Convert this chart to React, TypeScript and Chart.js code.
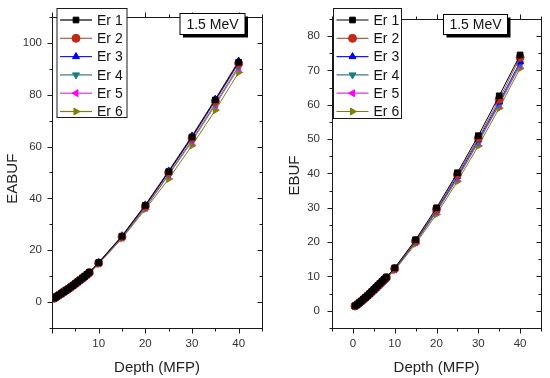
import React, { useEffect, useRef } from 'react';
import { Chart, registerables } from 'chart.js';
import { drawPoint } from 'chart.js/helpers';

Chart.register(...registerables);

const FONT = '"Liberation Sans", Arial, sans-serif';

// ---- data ----
const depths = [0.5, 1, 1.5, 2, 2.5, 3, 3.5, 4, 4.5, 5, 5.5, 6, 6.5, 7, 7.5, 8, 10, 15, 20, 25, 30, 35, 40];

const seriesNames = ['Er 1', 'Er 2', 'Er 3', 'Er 4', 'Er 5', 'Er 6'];

// EABUF (left panel)
const eabufEr1 = [1.5, 2.1, 2.7, 3.3, 3.9, 4.5, 5.1, 5.8, 6.4, 7.1, 7.8, 8.5, 9.2, 9.9, 10.7, 11.5, 15.2, 25.4, 37.3, 50.3, 63.7, 78.0, 92.5];
const eabufEr2 = [1.5, 2.1, 2.7, 3.3, 3.9, 4.5, 5.1, 5.7, 6.4, 7.1, 7.8, 8.5, 9.2, 9.9, 10.6, 11.4, 15.1, 25.2, 37.0, 50.0, 63.3, 77.5, 92.0];
const eabufEr3 = [1.4, 2.0, 2.6, 3.2, 3.8, 4.4, 5.1, 5.7, 6.4, 7.1, 7.8, 8.5, 9.2, 10.0, 10.7, 11.5, 15.3, 25.6, 37.5, 50.6, 64.1, 78.3, 93.0];
const eabufEr4 = [1.5, 2.1, 2.7, 3.3, 3.9, 4.5, 5.1, 5.7, 6.3, 7.0, 7.7, 8.4, 9.1, 9.8, 10.5, 11.3, 15.0, 25.0, 36.6, 49.3, 62.5, 76.5, 91.0];
const eabufEr5 = [1.5, 2.1, 2.7, 3.3, 3.9, 4.5, 5.0, 5.6, 6.3, 7.0, 7.6, 8.3, 9.0, 9.7, 10.4, 11.2, 14.9, 24.8, 36.3, 49.0, 62.0, 76.0, 90.3];
const eabufEr6 = [1.6, 2.2, 2.8, 3.4, 4.0, 4.6, 5.1, 5.7, 6.3, 6.9, 7.6, 8.2, 8.9, 9.6, 10.3, 11.0, 14.7, 24.5, 35.8, 47.5, 60.4, 74.0, 88.6];

// EBUF (right panel)
const ebufEr1 = [1.4, 1.8, 2.3, 2.8, 3.4, 3.9, 4.4, 5.0, 5.6, 6.2, 6.8, 7.4, 8.0, 8.6, 9.2, 9.8, 12.5, 20.7, 30.0, 40.2, 51.0, 62.6, 74.5];
const ebufEr2 = [1.4, 1.8, 2.3, 2.8, 3.3, 3.8, 4.4, 4.9, 5.5, 6.1, 6.7, 7.3, 7.9, 8.5, 9.1, 9.7, 12.3, 20.4, 29.6, 39.7, 50.3, 61.6, 73.8];
const ebufEr3 = [1.3, 1.8, 2.2, 2.7, 3.3, 3.8, 4.3, 4.9, 5.5, 6.0, 6.6, 7.2, 7.8, 8.4, 9.0, 9.6, 12.2, 20.2, 29.3, 39.2, 49.8, 60.8, 72.5];
const ebufEr4 = [1.4, 1.8, 2.3, 2.8, 3.3, 3.8, 4.3, 4.9, 5.4, 6.0, 6.6, 7.2, 7.8, 8.4, 8.9, 9.5, 12.1, 20.0, 29.0, 38.8, 49.3, 60.3, 72.0];
const ebufEr5 = [1.4, 1.8, 2.3, 2.8, 3.3, 3.8, 4.3, 4.8, 5.4, 6.0, 6.5, 7.1, 7.7, 8.3, 8.9, 9.5, 12.0, 19.9, 28.8, 38.5, 49.0, 60.0, 71.5];
const ebufEr6 = [1.5, 1.9, 2.4, 2.8, 3.3, 3.8, 4.3, 4.8, 5.3, 5.9, 6.4, 7.0, 7.6, 8.1, 8.7, 9.3, 11.8, 19.5, 28.1, 37.7, 48.0, 59.0, 70.6];

// ---- styles ----
const lineColors = ['#000000', '#b4603c', '#1a1ae6', '#3c7878', '#d23cd2', '#7d7d14'];
const markerColors = ['#000000', '#c02a18', '#0000ff', '#138080', '#ff00ff', '#808000'];
const markerStyles = ['rect', 'circle', 'triangle', 'triangle', 'triangle', 'triangle'];
const markerRotations = [0, 0, 0, 180, 270, 90];

interface PanelCfg {
  values: number[][];
  yTitle: string;
  yTitlePad: number;
  yWidth: number;
  yPad: number;
  xMin: number;
  xMax: number;
  hideZeroX: boolean;
  yMin: number;
  yMax: number;
  yMinor: number;
  yMajor: number;
  padRight: number;
  legend: { x: number; y: number; w: number; h: number };
  note: { x: number; y: number; w: number; h: number };
}

const leftPanel: PanelCfg = {
  values: [eabufEr1, eabufEr2, eabufEr3, eabufEr4, eabufEr5, eabufEr6],
  yTitle: 'EABUF   ',
  yTitlePad: 4,
  yWidth: 52,
  yPad: 10,
  xMin: 0,
  xMax: 45,
  hideZeroX: true,
  yMin: -10,
  yMax: 110,
  yMinor: 10,
  yMajor: 20,
  padRight: 13,
  legend: { x: 57, y: 8.5, w: 70, h: 109 },
  note: { x: 180, y: 13.5, w: 65, h: 21 },
};

const rightPanel: PanelCfg = {
  values: [ebufEr1, ebufEr2, ebufEr3, ebufEr4, ebufEr5, ebufEr6],
  yTitle: 'EBUF ',
  yTitlePad: 11,
  yWidth: 57,
  yPad: 12,
  xMin: -5,
  xMax: 45,
  hideZeroX: false,
  yMin: -5,
  yMax: 85,
  yMinor: 5,
  yMajor: 10,
  padRight: 8,
  legend: { x: 58.5, y: 8.5, w: 68, h: 110 },
  note: { x: 168.5, y: 14.5, w: 64, h: 20 },
};

const crisp = (v: number) => Math.round(v) + 0.5;

function makeDecor(p: PanelCfg) {
  return {
    id: 'decor',
    afterDraw(chart: any) {
      const ctx: CanvasRenderingContext2D = chart.ctx;
      const { left, right, top, bottom } = chart.chartArea;
      const xs = chart.scales.x;
      const ys = chart.scales.y;
      const L = crisp(left), R = crisp(right), T = crisp(top), B = crisp(bottom);
      ctx.save();
      ctx.strokeStyle = '#1a1a1a';
      ctx.lineWidth = 1;
      ctx.strokeRect(L, T, R - L, B - T);
      ctx.beginPath();
      xs.ticks.forEach((t: any) => {
        const px = crisp(xs.getPixelForValue(t.value));
        const len = t.value % 10 === 0 ? 5 : 3;
        ctx.moveTo(px, B); ctx.lineTo(px, B + len);
        ctx.moveTo(px, T); ctx.lineTo(px, T - len);
      });
      ys.ticks.forEach((t: any) => {
        const py = crisp(ys.getPixelForValue(t.value));
        const len = t.value % p.yMajor === 0 ? 5 : 3;
        ctx.moveTo(L, py); ctx.lineTo(L - len, py);
        ctx.moveTo(R, py); ctx.lineTo(R - len, py);
      });
      ctx.stroke();

      // legend
      const lg = p.legend;
      ctx.fillStyle = '#ffffff';
      ctx.fillRect(lg.x, lg.y, lg.w, lg.h);
      ctx.strokeStyle = '#1a1a1a';
      ctx.strokeRect(lg.x, lg.y, lg.w, lg.h);
      chart.data.datasets.forEach((ds: any, i: number) => {
        const cy = lg.y + 11.5 + i * 18.3;
        ctx.strokeStyle = ds.borderColor;
        ctx.lineWidth = 1.2;
        ctx.beginPath();
        ctx.moveTo(lg.x + 3, cy);
        ctx.lineTo(lg.x + 35, cy);
        ctx.stroke();
        ctx.fillStyle = ds.pointBackgroundColor;
        ctx.strokeStyle = ds.pointBorderColor;
        ctx.lineWidth = 1;
        drawPoint(ctx, { pointStyle: ds.pointStyle, rotation: ds.pointRotation, radius: 4, borderWidth: 1 } as any, lg.x + 19, cy);
        ctx.fillStyle = '#111111';
        ctx.font = `14px ${FONT}`;
        ctx.textBaseline = 'middle';
        ctx.textAlign = 'left';
        ctx.fillText(ds.label, lg.x + 40, cy + 1);
      });

      // energy label
      const n = p.note;
      ctx.fillStyle = '#000000';
      ctx.fillRect(n.x + 3, n.y + 3, n.w, n.h);
      ctx.fillStyle = '#ffffff';
      ctx.fillRect(n.x, n.y, n.w, n.h);
      ctx.strokeStyle = '#000000';
      ctx.lineWidth = 1;
      ctx.strokeRect(n.x, n.y, n.w, n.h);
      ctx.fillStyle = '#111111';
      ctx.font = `14px ${FONT}`;
      ctx.textAlign = 'center';
      ctx.textBaseline = 'middle';
      ctx.fillText('1.5 MeV', n.x + n.w / 2, n.y + n.h / 2 + 1);
      ctx.restore();
    },
  };
}

function buildConfig(p: PanelCfg): any {
  const datasets = seriesNames.map((name, i) => ({
    label: name,
    data: depths.map((d, j) => ({ x: d, y: p.values[i][j] })),
    borderColor: lineColors[i],
    backgroundColor: markerColors[i],
    pointBackgroundColor: markerColors[i],
    pointBorderColor: markerColors[i],
    pointStyle: markerStyles[i],
    pointRotation: markerRotations[i],
    pointRadius: 4,
    pointBorderWidth: 1,
    borderWidth: 1,
    tension: 0,
    showLine: true,
  }));
  const tickFont = { family: FONT, size: 11.5 };
  return {
    type: 'scatter',
    data: { datasets },
    options: {
      animation: false,
      responsive: false,
      maintainAspectRatio: false,
      devicePixelRatio: 1,
      layout: { padding: { top: 5, right: p.padRight, left: 0, bottom: 0 } },
      plugins: { legend: { display: false }, tooltip: { enabled: false } },
      scales: {
        x: {
          type: 'linear',
          min: p.xMin,
          max: p.xMax,
          afterFit: (s: any) => { s.height = 50; },
          grid: { display: false, drawTicks: false },
          border: { display: false },
          ticks: {
            stepSize: 5,
            autoSkip: false,
            maxRotation: 0,
            padding: 9,
            color: '#333333',
            font: tickFont,
            callback: (v: number) => (v % 10 === 0 && !(p.hideZeroX && v === 0) ? String(v) : ''),
          },
          title: {
            display: true,
            text: 'Depth (MFP)',
            color: '#222222',
            font: { family: FONT, size: 15 },
            padding: { top: 0, bottom: 1 },
          },
        },
        y: {
          type: 'linear',
          min: p.yMin,
          max: p.yMax,
          afterFit: (s: any) => { s.width = p.yWidth; },
          grid: { display: false, drawTicks: false },
          border: { display: false },
          ticks: {
            stepSize: p.yMinor,
            autoSkip: false,
            padding: p.yPad,
            color: '#333333',
            font: tickFont,
            callback: (v: number) => (v % p.yMajor === 0 ? String(v) : ''),
          },
          title: {
            display: true,
            text: p.yTitle,
            color: '#222222',
            font: { family: FONT, size: 15 },
            padding: { top: p.yTitlePad, bottom: 0 },
          },
        },
      },
    },
    plugins: [makeDecor(p)],
  };
}

function Panel({ left, cfg }: { left: number; cfg: PanelCfg }) {
  const ref = useRef<HTMLCanvasElement>(null);
  useEffect(() => {
    const chart = new Chart(ref.current as HTMLCanvasElement, buildConfig(cfg));
    return () => chart.destroy();
  }, [cfg]);
  return (
    <canvas
      ref={ref}
      width={275}
      height={378}
      style={{ position: 'absolute', left, top: 0, width: 275, height: 378 }}
    />
  );
}

export default function App() {
  return (
    <div style={{ position: 'fixed', left: 0, top: 0, width: 550, height: 378, background: '#ffffff', overflow: 'hidden' }}>
      <Panel left={0} cfg={leftPanel} />
      <Panel left={275} cfg={rightPanel} />
    </div>
  );
}
